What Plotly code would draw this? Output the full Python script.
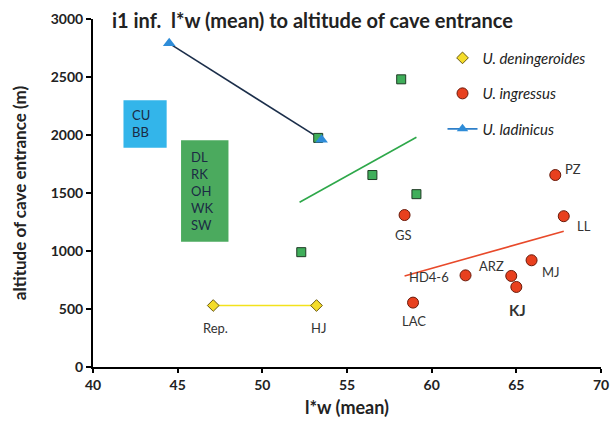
import plotly.graph_objects as go

# Data
den_x = [47.1, 53.2]
den_y = [530, 530]
den_labels = ["Rep.", "HJ"]

ing_x = [67.3, 67.8, 58.4, 65.9, 64.7, 65.0, 62.0, 58.9]
ing_y = [1655, 1300, 1310, 920, 785, 690, 790, 555]
ing_labels = ["PZ", "LL", "GS", "MJ", "ARZ", "KJ", "HD4-6", "LAC"]

lad_x = [44.5, 53.5]
lad_y = [2790, 1960]

sq_x = [53.3, 58.2, 56.5, 59.1, 52.3]
sq_y = [1975, 2480, 1655, 1490, 990]

green_trend_x = [52.2, 59.1]
green_trend_y = [1420, 1980]
red_trend_x = [58.4, 67.8]
red_trend_y = [785, 1170]

FONT = "Lato"
W, H = 613, 425
fig = go.Figure()

fig.add_trace(go.Scatter(x=green_trend_x, y=green_trend_y, mode="lines",
                         line=dict(color="#2EA84A", width=1.6), showlegend=False))
fig.add_trace(go.Scatter(x=red_trend_x, y=red_trend_y, mode="lines",
                         line=dict(color="#E8492A", width=1.6), showlegend=False))
fig.add_trace(go.Scatter(x=den_x, y=den_y, mode="lines",
                         line=dict(color="#F3E21C", width=1.6), showlegend=False))
fig.add_trace(go.Scatter(x=lad_x, y=lad_y, mode="lines",
                         line=dict(color="#1B2E4A", width=1.6), showlegend=False))

fig.add_trace(go.Scatter(x=sq_x, y=sq_y, mode="markers",
                         marker=dict(symbol="square", size=9, color="#3FAE5A",
                                     line=dict(color="#1E3A24", width=1)),
                         showlegend=False))

fig.add_trace(go.Scatter(x=den_x, y=den_y, mode="markers", name="<i>U. deningeroides</i>",
                         legendgroup="a",
                         marker=dict(symbol="diamond", size=9, color="#F4DC2A",
                                     line=dict(color="#6B5A10", width=1))))
fig.add_trace(go.Scatter(x=ing_x, y=ing_y, mode="markers", name="<i>U. ingressus</i>",
                         legendgroup="b",
                         marker=dict(symbol="circle", size=11, color="#E8401E",
                                     line=dict(color="#6A1A0A", width=1))))
fig.add_trace(go.Scatter(x=lad_x, y=lad_y, mode="markers", showlegend=False,
                         marker=dict(symbol="triangle-up", size=11, color="#2E8CD8",
                                     line=dict(width=0))))
fig.add_trace(go.Scatter(x=[None], y=[None], mode="lines+markers", name="<i>U. ladinicus</i>",
                         legendgroup="c",
                         line=dict(color="#2E7FC9", width=1.6),
                         marker=dict(symbol="triangle-up", size=10, color="#2E8CD8",
                                     line=dict(width=0))))

annotations = []
offsets = {
    "PZ": (18, -6), "LL": (20, 10), "GS": (-1, 20),
    "MJ": (19, 12), "ARZ": (-20, -10), "KJ": (1, 23),
    "HD4-6": (-37, 2), "LAC": (1, 18),
}
for xv, yv, lab in zip(ing_x, ing_y, ing_labels):
    dx, dy = offsets[lab]
    txt = "<b>KJ</b>" if lab == "KJ" else lab
    size = 15 if lab == "KJ" else 13
    annotations.append(dict(x=xv, y=yv, text=txt, showarrow=False, xshift=dx, yshift=-dy,
                            font=dict(family=FONT, size=size, color="#333333")))
for xv, yv, lab in zip(den_x, den_y, den_labels):
    annotations.append(dict(x=xv, y=yv, text=lab, showarrow=False, xshift=2, yshift=-22,
                            font=dict(family=FONT, size=13, color="#333333")))

shapes = [
    dict(type="rect", x0=41.8, x1=44.35, y0=1890, y1=2300, fillcolor="#33B5EA",
         line=dict(width=0), layer="below"),
    dict(type="rect", x0=45.2, x1=48.0, y0=1080, y1=1955, fillcolor="#4BAA5E",
         line=dict(width=0), layer="below"),
]
annotations.append(dict(x=42.2, y=2095, text="CU<br>BB", showarrow=False, xanchor="left",
                        align="left", font=dict(family=FONT, size=13, color="#1B2A44")))
annotations.append(dict(x=45.65, y=1515, text="DL<br>RK<br>OH<br>WK<br>SW", showarrow=False,
                        xanchor="left", align="left",
                        font=dict(family=FONT, size=13, color="#1B2A44")))

fig.update_layout(
    width=W, height=H,
    margin=dict(l=93, r=12, t=19, b=58, autoexpand=False),
    paper_bgcolor="white", plot_bgcolor="white",
    font=dict(family=FONT, color="#222222"),
    title=dict(text="<b>i1 inf.  l*w (mean) to altitude of cave entrance</b>",
               x=112/W, xanchor="left", y=1 - 21/H, yanchor="middle",
               font=dict(family=FONT, size=20, color="#222222")),
    shapes=shapes,
    annotations=annotations,
    legend=dict(x=0.688, y=0.935, xanchor="left", yanchor="top",
                bgcolor="rgba(0,0,0,0)", tracegroupgap=13,
                font=dict(family=FONT, size=15, color="#222222")),
    xaxis=dict(range=[40, 70], dtick=5, showgrid=False, zeroline=False,
               showline=True, linecolor="black", linewidth=2, automargin=False,
               ticks="outside", ticklen=4, tickwidth=2, tickcolor="black",
               tickfont=dict(family=FONT, size=14, color="#222222"),
               title=dict(text="<b>l*w (mean)</b>", font=dict(family=FONT, size=18),
                          standoff=10)),
    yaxis=dict(range=[0, 3000], dtick=500, showgrid=False, zeroline=False,
               showline=True, linecolor="black", linewidth=2, automargin=False,
               ticks="outside", ticklen=5, tickwidth=2, tickcolor="black",
               tickfont=dict(family=FONT, size=14, color="#222222"),
               tickformat="d",
               title=dict(text="<b>altitude of cave entrance (m)</b>",
                          font=dict(family=FONT, size=17), standoff=20)),
)
fig.update_xaxes(tickprefix="<b>", ticksuffix="</b>")
fig.update_yaxes(tickprefix="<b>", ticksuffix="</b>")

fig.write_html("out.html", config={"displayModeBar": False},
               post_script="document.body.style.margin='0';document.body.style.overflow='hidden';")
